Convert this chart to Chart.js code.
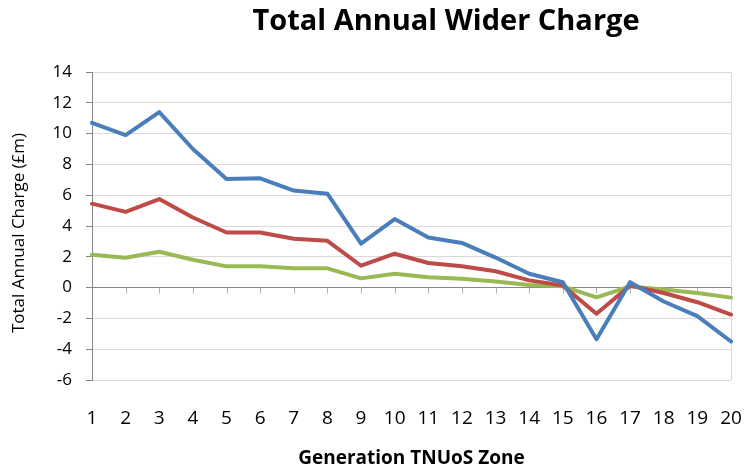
<!DOCTYPE html>
<html>
<head>
<meta charset="utf-8">
<script src="https://cdn.jsdelivr.net/npm/chart.js@4/dist/chart.umd.min.js"></script>
<style>
  html, body { margin: 0; padding: 0; background: #fff; }
  #wrap { width: 746px; height: 470px; }
</style>
</head>
<body>
<div id="wrap"><canvas id="c" width="746" height="470"></canvas></div>
<script>
const zones = ['1','2','3','4','5','6','7','8','9','10','11','12','13','14','15','16','17','18','19','20'];
const seriesBlue  = [10.7, 9.9, 11.4, 9.0, 7.05, 7.1, 6.3, 6.1, 2.85, 4.45, 3.25, 2.9, 1.95, 0.9, 0.35, -3.35, 0.35, -0.9, -1.85, -3.5];
const seriesRed   = [5.45, 4.92, 5.75, 4.55, 3.58, 3.58, 3.17, 3.04, 1.42, 2.2, 1.6, 1.38, 1.06, 0.47, 0.13, -1.7, 0.13, -0.35, -0.95, -1.75];
const seriesGreen = [2.14, 1.94, 2.33, 1.81, 1.38, 1.38, 1.25, 1.25, 0.6, 0.9, 0.67, 0.58, 0.39, 0.17, 0.08, -0.63, 0.08, -0.13, -0.35, -0.65];
const yTicks = [-6, -4, -2, 0, 2, 4, 6, 8, 10, 12, 14];

const chartTitle = 'Total Annual Wider Charge';
const xTitle = 'Generation TNUoS Zone';
const yTitle = 'Total Annual Charge (£m)';

const FONT = '"Open Sans", Lato, "DejaVu Sans", sans-serif';

const decor = {
  id: 'decor',
  beforeDatasetsDraw(chart) {
    const {ctx, chartArea, scales: {x, y}} = chart;
    const y0 = y.getPixelForValue(0);
    ctx.save();
    // right plot border
    ctx.strokeStyle = '#d9d9d9';
    ctx.lineWidth = 1;
    ctx.beginPath();
    ctx.moveTo(Math.round(chartArea.right) + 0.5, chartArea.top);
    ctx.lineTo(Math.round(chartArea.right) + 0.5, chartArea.bottom);
    ctx.stroke();
    // category tick marks on the zero line
    ctx.strokeStyle = '#b0b0b0';
    ctx.beginPath();
    for (let i = 1; i < x.ticks.length; i++) {
      const px = Math.round(x.getPixelForTick(i)) + 0.5;
      ctx.moveTo(px, y0);
      ctx.lineTo(px, y0 + 6);
    }
    ctx.stroke();
    ctx.restore();
  },
  afterDraw(chart) {
    const {ctx} = chart;
    ctx.save();
    ctx.fillStyle = '#000';
    ctx.font = 'bold 29px ' + FONT;
    ctx.textAlign = 'center';
    ctx.textBaseline = 'middle';
    ctx.fillText(chartTitle, 446, 22);
    // y axis title
    ctx.font = '17px ' + FONT;
    ctx.translate(19, 233);
    ctx.rotate(-Math.PI / 2);
    ctx.fillText(yTitle, 0, 0);
    ctx.restore();
  }
};

new Chart(document.getElementById('c'), {
  type: 'line',
  data: {
    labels: zones,
    datasets: [
      { label: 'Series 1', data: seriesBlue, borderColor: '#4a7ebb', borderWidth: 4 },
      { label: 'Series 2', data: seriesRed, borderColor: '#be4b48', borderWidth: 4 },
      { label: 'Series 3', data: seriesGreen, borderColor: '#98b954', borderWidth: 4 }
    ]
  },
  options: {
    responsive: false,
    animation: false,
    devicePixelRatio: 1,
    layout: { padding: { top: 72, right: 15, left: 0, bottom: 0 } },
    elements: {
      point: { radius: 0, hoverRadius: 0 },
      line: { tension: 0, borderJoinStyle: 'round', borderCapStyle: 'round' }
    },
    plugins: {
      legend: { display: false },
      tooltip: { enabled: false },
      title: { display: false }
    },
    scales: {
      x: {
        type: 'category',
        offset: false,
        grid: { display: false, drawTicks: false },
        border: { display: false },
        ticks: { color: '#000', font: { family: FONT, size: 19 }, padding: 27, maxRotation: 0, autoSkip: false },
        title: { display: true, text: xTitle, color: '#000', font: { family: FONT, size: 19, weight: 'bold' }, padding: { top: 0, bottom: 0 } },
        afterFit(scale) { scale.height = 90; scale.paddingLeft = 0; scale.paddingRight = 0; }
      },
      y: {
        min: -6,
        max: 14,
        afterBuildTicks(scale) { scale.ticks = yTicks.map(v => ({ value: v })); },
        grid: {
          color: ctx => (ctx.tick && ctx.tick.value === 0) ? '#868686' : '#d9d9d9',
          tickColor: '#868686',
          tickLength: 6,
          lineWidth: 1
        },
        border: { display: true, color: '#868686', width: 1 },
        ticks: { color: '#000', font: { family: FONT, size: 17 }, padding: 14 },
        title: { display: false },
        afterFit(scale) { scale.width = 92; scale.paddingTop = 0; scale.paddingBottom = 0; }
      }
    }
  },
  plugins: [decor]
});
</script>
</body>
</html>
